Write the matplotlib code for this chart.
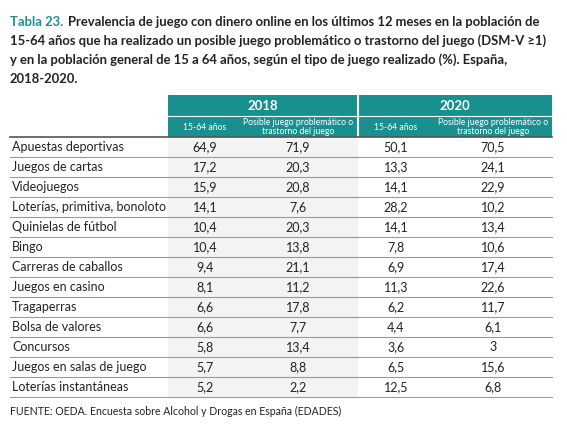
import matplotlib
matplotlib.use("Agg")
import matplotlib.pyplot as plt
from matplotlib.patches import Rectangle

categories = ["Apuestas deportivas", "Juegos de cartas", "Videojuegos", "Loterías, primitiva, bonoloto",
              "Quinielas de fútbol", "Bingo", "Carreras de caballos", "Juegos en casino", "Tragaperras",
              "Bolsa de valores", "Concursos", "Juegos en salas de juego", "Loterías instantáneas"]
pop_2018 = ["64,9", "17,2", "15,9", "14,1", "10,4", "10,4", "9,4", "8,1", "6,6", "6,6", "5,8", "5,7", "5,2"]
prob_2018 = ["71,9", "20,3", "20,8", "7,6", "20,3", "13,8", "21,1", "11,2", "17,8", "7,7", "13,4", "8,8", "2,2"]
pop_2020 = ["50,1", "13,3", "14,1", "28,2", "14,1", "7,8", "6,9", "11,3", "6,2", "4,4", "3,6", "6,5", "12,5"]
prob_2020 = ["70,5", "24,1", "22,9", "10,2", "13,4", "10,6", "17,4", "22,6", "11,7", "6,1", "3", "15,6", "6,8"]
years = ["2018", "2020"]
sub_labels = ["15-64 años", "Posible juego problemático o\ntrastorno del juego"]

W, H = 567, 424
fig = plt.figure(figsize=(W/100, H/100), dpi=100)
ax = fig.add_axes([0, 0, 1, 1])
ax.set_xlim(0, W); ax.set_ylim(H, 0); ax.axis("off")
plt.rcParams['font.family'] = ['Lato', 'DejaVu Sans']
teal = "#17908f"
txt = "#222222"

# title
ax.text(10, 22, "Tabla 23.", color=teal, fontsize=9.4, fontweight="bold", va="center")
ax.text(68, 22, "Prevalencia de juego con dinero online en los últimos 12 meses en la población de",
        color=txt, fontsize=9.4, fontweight="bold", va="center")
lines = ["15-64 años que ha realizado un posible juego problemático o trastorno del juego (DSM-V ≥1)",
         "y en la población general de 15 a 64 años, según el tipo de juego realizado (%). España,",
         "2018-2020."]
for i, l in enumerate(lines):
    ax.text(10, 41 + 19*i, l, color=txt, fontsize=9.4, fontweight="bold", va="center")

# header
x0, x1, xm = 168, 552, 358
ax.add_patch(Rectangle((x0, 95), x1-x0, 42, color=teal, lw=0))
ax.plot([x0, x1], [116, 116], color="white", lw=0.8)
col_x = [205, 298, 396, 493]
bounds = [x0, 243, xm, 434, x1]
for i, y in enumerate(years):
    ax.text((bounds[2*i]+bounds[2*i+2])/2, 106, y, color="white", fontsize=9.5, fontweight="bold",
            ha="center", va="center")
for j in range(4):
    ax.text(col_x[j], 127, sub_labels[j % 2], color="white", fontsize=6.2, ha="center", va="center",
            linespacing=1.0)
ax.plot([xm, xm], [95, 137], color="white", lw=1.5)

# rows
top, rh = 137, 20
ax.add_patch(Rectangle((x0, top), xm-x0, rh*len(categories), color="#f3f3f3", lw=0))
ax.plot([10, x1], [top, top], color="#555555", lw=1.2)
cols = [pop_2018, prob_2018, pop_2020, prob_2020]
for i, c in enumerate(categories):
    yc = top + rh*i + rh/2
    ax.text(12, yc, c, color=txt, fontsize=9, va="center")
    for j in range(4):
        ax.text(col_x[j], yc, cols[j][i], color=txt, fontsize=9, ha="center", va="center")
    ax.plot([10, x1], [top + rh*(i+1)]*2, color="#9a9a9a", lw=0.8)

ax.text(10, 411, "FUENTE: OEDA. Encuesta sobre Alcohol y Drogas en España (EDADES)", color=txt,
        fontsize=7.6, va="center")
fig.savefig("out.png", dpi=100, facecolor="white")
